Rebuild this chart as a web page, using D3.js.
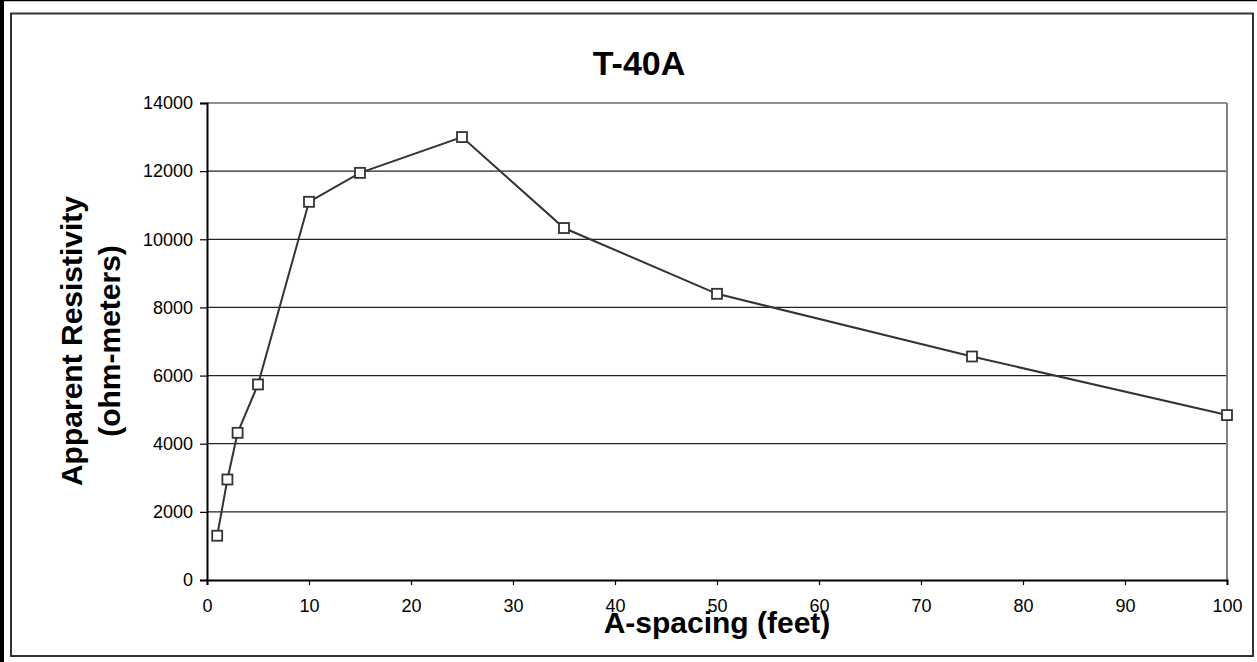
<!DOCTYPE html>
<html><head><meta charset="utf-8">
<script src="https://cdn.jsdelivr.net/npm/d3@7"></script>
<style>
html,body{margin:0;padding:0;background:#fff;}
svg{display:block;font-family:"Liberation Sans",Arial,sans-serif;}
</style></head><body>
<svg id="c" width="1257" height="662"></svg>
<script>
const spacing = [1, 2, 3, 5, 10, 15, 25, 35, 50, 75, 100];
const resistivity = [1300, 2950, 4320, 5740, 11100, 11950, 13000, 10330, 8400, 6560, 4840];
const xTicks = [0, 10, 20, 30, 40, 50, 60, 70, 80, 90, 100];
const yTicks = [0, 2000, 4000, 6000, 8000, 10000, 12000, 14000];
const title = "T-40A";
const xTitle = "A-spacing (feet)";
const yTitle = ["Apparent Resistivity", "(ohm-meters)"];

const svg = d3.select("#c");
// outer frame
svg.append("rect").attr("x",0).attr("y",0).attr("width",1257).attr("height",662).attr("fill","#fff");
svg.append("line").attr("x1",0).attr("x2",1257).attr("y1",0.5).attr("y2",0.5).attr("stroke","#000").attr("stroke-width",1.5);
svg.append("rect").attr("x",0).attr("y",0).attr("width",4).attr("height",662).attr("fill","#000");
svg.append("rect").attr("x",11).attr("y",13.5).attr("width",1242).attr("height",642.5)
  .attr("fill","none").attr("stroke","#333").attr("stroke-width",2);

const L = 207, R = 1227, T = 103, B = 580;
const x = d3.scaleLinear().domain([0,100]).range([L,R]);
const y = d3.scaleLinear().domain([0,14000]).range([B,T]);

// gridlines
svg.append("g").selectAll("line").data(yTicks.filter(d=>d>0)).join("line")
  .attr("x1",L).attr("x2",R).attr("y1",d=>y(d)).attr("y2",d=>y(d))
  .attr("stroke","#222").attr("stroke-width",1.2);
// right plot border
svg.append("line").attr("x1",R).attr("x2",R).attr("y1",T).attr("y2",B)
  .attr("stroke","#808080").attr("stroke-width",2);

// axes
const xAxis = d3.axisBottom(x).tickValues(xTicks).tickSize(5).tickPadding(14).tickFormat(d3.format("d"));
const gx = svg.append("g").attr("transform",`translate(0,${B})`).call(xAxis);
gx.select(".domain").attr("stroke","#000").attr("stroke-width",2);
gx.selectAll(".tick line").attr("stroke","#000").attr("stroke-width",1.2);
gx.selectAll("text").attr("font-size",18).attr("fill","#000").attr("font-family","Liberation Sans, Arial, sans-serif");

const yAxis = d3.axisLeft(y).tickValues(yTicks).tickSize(7).tickPadding(7).tickFormat(d3.format("d"));
const gy = svg.append("g").attr("transform",`translate(${L},0)`).call(yAxis);
gy.select(".domain").attr("stroke","#000").attr("stroke-width",2);
gy.selectAll(".tick line").attr("stroke","#000").attr("stroke-width",1.2);
gy.selectAll("text").attr("font-size",18).attr("fill","#000").attr("font-family","Liberation Sans, Arial, sans-serif");

// line
const pts = spacing.map((s,i)=>[s,resistivity[i]]);
svg.append("path").datum(pts)
  .attr("d", d3.line().x(d=>x(d[0])).y(d=>y(d[1])))
  .attr("fill","none").attr("stroke","#333").attr("stroke-width",2);
svg.append("g").selectAll("rect").data(pts).join("rect")
  .attr("x",d=>x(d[0])-5).attr("y",d=>y(d[1])-5).attr("width",10).attr("height",10)
  .attr("fill","#fff").attr("stroke","#333").attr("stroke-width",1.8);

// titles
svg.append("text").attr("x",639).attr("y",75).attr("text-anchor","middle")
  .attr("font-size",34).attr("font-weight","bold").text(title);
svg.append("text").attr("x",717).attr("y",633).attr("text-anchor","middle")
  .attr("font-size",30).attr("font-weight","bold").text(xTitle);
const yt = svg.append("text").attr("transform",`translate(0,341) rotate(-90)`)
  .attr("text-anchor","middle").attr("font-size",30).attr("font-weight","bold");
yt.append("tspan").attr("x",0).attr("y",82).text(yTitle[0]);
yt.append("tspan").attr("x",0).attr("y",120).text(yTitle[1]);
</script>
</body></html>
